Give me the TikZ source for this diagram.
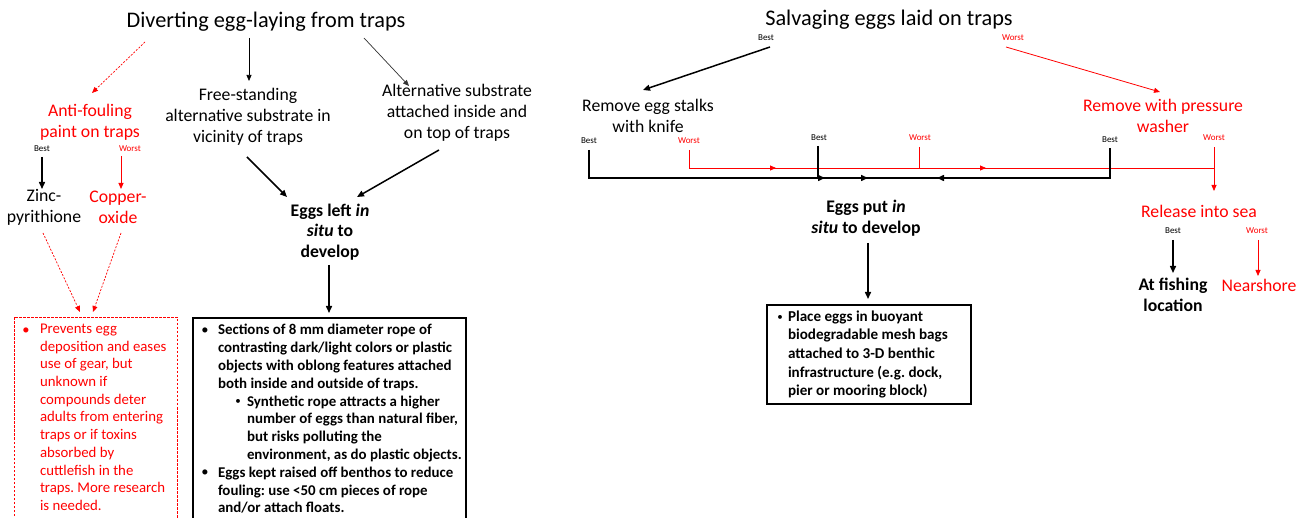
\documentclass[tikz,border=0pt]{standalone}
\usepackage{fontspec}
\setmainfont{Carlito}
\usetikzlibrary{arrows.meta}
\definecolor{rd}{RGB}{255,0,0}
\frenchspacing
\begin{document}
\begin{tikzpicture}[x=1pt,y=-1pt,
 every node/.style={inner sep=0pt, outer sep=0pt},
 ttl/.style={font=\fontsize{22.3}{26}\selectfont},
 lab/.style={font=\fontsize{17.7}{21}\selectfont, align=center},
 blab/.style={font=\fontsize{17.7}{20.5}\selectfont\bfseries, align=center},
 tinylab/.style={font=\fontsize{9}{10}\selectfont},
 boxtxt/.style={font=\fontsize{14.9}{17.8}\selectfont\bfseries, align=left, anchor=north west},
 redtxt/.style={font=\fontsize{14.8}{17.7}\selectfont, align=left, anchor=north west, text=rd},
 smalltxt/.style={font=\fontsize{15.1}{18.7}\selectfont\bfseries, align=left, anchor=north west},
 thickarr/.style={-{Triangle[length=7pt,width=6pt]}, line width=1.5pt},
 thinarr/.style={-{Triangle[length=6pt,width=5pt]}, line width=0.7pt},
 redarr/.style={-{Triangle[length=6pt,width=5pt]}, line width=0.8pt, draw=rd},
 dotarr/.style={-{Triangle[length=6pt,width=5pt]}, draw=rd, line width=0.7pt, dash pattern=on 2pt off 1.5pt},
]
\useasboundingbox (0,0) rectangle (1304,518);

% ---------------- LEFT ----------------
\node[ttl] (t1) at (266,22) {Diverting egg-laying from traps};
\node[lab, text=rd] (af) at (90,122) {Anti-fouling\\paint on traps};
\node[lab] (fs) at (248,117) {Free-standing\\alternative substrate in\\vicinity of traps};
\node[lab] (as) at (457,113) {Alternative substrate\\attached inside and\\on top of traps};
\node[tinylab] (b1) at (42,149) {Best};
\node[tinylab, text=rd] (w1) at (130,149) {Worst};
\node[lab] (zp) at (44,207) {Zinc-\\pyrithione};
\node[lab, text=rd] (co) at (118,207) {Copper-\\oxide};
\node[blab] (el) at (330,232) {Eggs left \textit{in}\\\textit{situ} to\\develop};

\coordinate (a1s) at (145,42); \coordinate (a1e) at (92,93);
\coordinate (a2s) at (249,38); \coordinate (a2e) at (249,81);
\coordinate (a3s) at (364,38); \coordinate (a3e) at (409,86);
\coordinate (a4s) at (42,157); \coordinate (a4e) at (42,189);
\coordinate (a5s) at (121,156); \coordinate (a5e) at (121,189);
\coordinate (a6s) at (247,157); \coordinate (a6e) at (287,197);
\coordinate (a7s) at (439,150); \coordinate (a7e) at (357,197);
\coordinate (a8s) at (329,265); \coordinate (a8e) at (329,313);
\coordinate (a9s) at (43,233); \coordinate (a9e) at (80,312);
\coordinate (a10s) at (121,233); \coordinate (a10e) at (93,312);

\draw[dotarr] (a1s) -- (a1e);
\draw[thinarr] (a2s) -- (a2e);
\draw[thinarr, draw=black!80] (a3s) -- (a3e);
\draw[thickarr] (a4s) -- (a4e);
\draw[redarr] (a5s) -- (a5e);
\draw[thickarr] (a6s) -- (a6e);
\draw[thickarr] (a7s) -- (a7e);
\draw[thickarr] (a8s) -- (a8e);
\draw[dotarr] (a9s) -- (a9e);
\draw[dotarr] (a10s) -- (a10e);

% red dashed box
\draw[rd, line width=0.8pt, dash pattern=on 2.5pt off 1.5pt] (14,520) -- (14,317) -- (177,317) -- (177,520);
\node[text=rd, font=\fontsize{14.5}{17.7}\selectfont] (rb) at (26,331) {•};
\node[redtxt] (rt) at (40,324) {Prevents egg\\deposition and eases\\use of gear, but\\unknown if\\compounds deter\\adults from entering\\traps or if toxins\\absorbed by\\cuttlefish in the\\traps. More research\\is needed.};

% black box
\draw[line width=1.2pt] (193,520) -- (193,318) -- (466,318) -- (466,520);
\node[font=\fontsize{14.5}{17.8}\selectfont] (bb1) at (205,331) {•};
\node[boxtxt] (bt1) at (218,324.5) {Sections of 8 mm diameter rope of\\contrasting dark/light colors or plastic\\objects with oblong features attached\\both inside and outside of traps.};
\node[font=\fontsize{11}{12}\selectfont] (bb2) at (238,402) {•};
\node[boxtxt] (bt2) at (247,395.7) {Synthetic rope attracts a higher\\number of eggs than natural fiber,\\but risks polluting the\\environment, as do plastic objects.};
\node[font=\fontsize{14.5}{17.8}\selectfont] (bb3) at (205,473) {•};
\node[boxtxt] (bt3) at (218,466.9) {Eggs kept raised off benthos to reduce\\fouling: use <50 cm pieces of rope\\and/or attach floats.};

% ---------------- RIGHT ----------------
\node[ttl] (t2) at (889,20) {Salvaging eggs laid on traps};
\node[tinylab] (b2) at (766,38) {Best};
\node[tinylab, text=rd] (w2) at (1013,38) {Worst};
\node[lab] (rk) at (648,116) {Remove egg stalks\\with knife};
\node[lab, text=rd] (rp) at (1163,116) {Remove with pressure\\washer};
\node[tinylab] (b3) at (589,141) {Best};
\node[tinylab, text=rd] (w3) at (689,141) {Worst};
\node[tinylab] (b4) at (819,138) {Best};
\node[tinylab, text=rd] (w4) at (920,138) {Worst};
\node[tinylab] (b5) at (1110,140) {Best};
\node[tinylab, text=rd] (w5) at (1214,138) {Worst};
\node[blab] (ep) at (866,218) {Eggs put \textit{in}\\\textit{situ} to develop};
\node[lab, text=rd] (rs) at (1199,211) {Release into sea};
\node[tinylab] (b6) at (1173,231) {Best};
\node[tinylab, text=rd] (w6) at (1257,231) {Worst};
\node[blab] (af2) at (1173,295) {At fishing\\location};
\node[lab, text=rd] (ns) at (1259,285) {Nearshore};

\coordinate (r1s) at (770,47); \coordinate (r1e) at (643,90);
\coordinate (r2s) at (1006,47); \coordinate (r2e) at (1160,92);
\draw[thickarr] (r1s) -- (r1e);
\draw[redarr] (r2s) -- (r2e);

% red connector line
\coordinate (p1) at (689,150); \coordinate (p2) at (689,168);
\coordinate (p3) at (919,147); \coordinate (p4) at (919,168);
\coordinate (p5) at (1214,147); \coordinate (p6) at (1214,168); \coordinate (p7) at (1214,191);
\coordinate (ra1) at (776,168); \coordinate (ra2) at (986,168);
\draw[rd, line width=0.8pt] (p1) -- (p2) -- (p6) -- (p5);
\draw[rd, line width=0.8pt] (p3) -- (p4);
\draw[redarr] (p2) -- (ra1);
\draw[redarr] (p4) -- (ra2);
\draw[redarr] (p6) -- (p7);

% black connector line
\coordinate (q1) at (589,150); \coordinate (q2) at (589,178);
\coordinate (q3) at (818,146); \coordinate (q4) at (818,178);
\coordinate (q5) at (1110,148); \coordinate (q6) at (1110,178);
\coordinate (ba1) at (825,178); \coordinate (ba2) at (868,178); \coordinate (ba3) at (937,178);
\draw[line width=1.5pt] (q1) -- (q2) -- (q6) -- (q5);
\draw[line width=1.5pt] (q3) -- (q4);
\draw[thickarr] (q2) -- (ba1);
\draw[thickarr] (q4) -- (ba2);
\draw[thickarr] (q6) -- (ba3);

\coordinate (r3s) at (868,243); \coordinate (r3e) at (868,299);
\draw[thickarr] (r3s) -- (r3e);
\coordinate (r4s) at (1173,240); \coordinate (r4e) at (1173,273);
\draw[thickarr] (r4s) -- (r4e);
\coordinate (r5s) at (1258,240); \coordinate (r5e) at (1258,276);
\draw[redarr] (r5s) -- (r5e);

% right box
\draw[line width=1.2pt] (767,305) rectangle (971,404);
\node[font=\fontsize{11}{12}\selectfont] (bb4) at (780,318) {•};
\node[smalltxt] (bt4) at (788,310.5) {Place eggs in buoyant\\biodegradable mesh bags\\attached to 3-D benthic\\infrastructure (e.g. dock,\\pier or mooring block)};
\end{tikzpicture}
\end{document}
